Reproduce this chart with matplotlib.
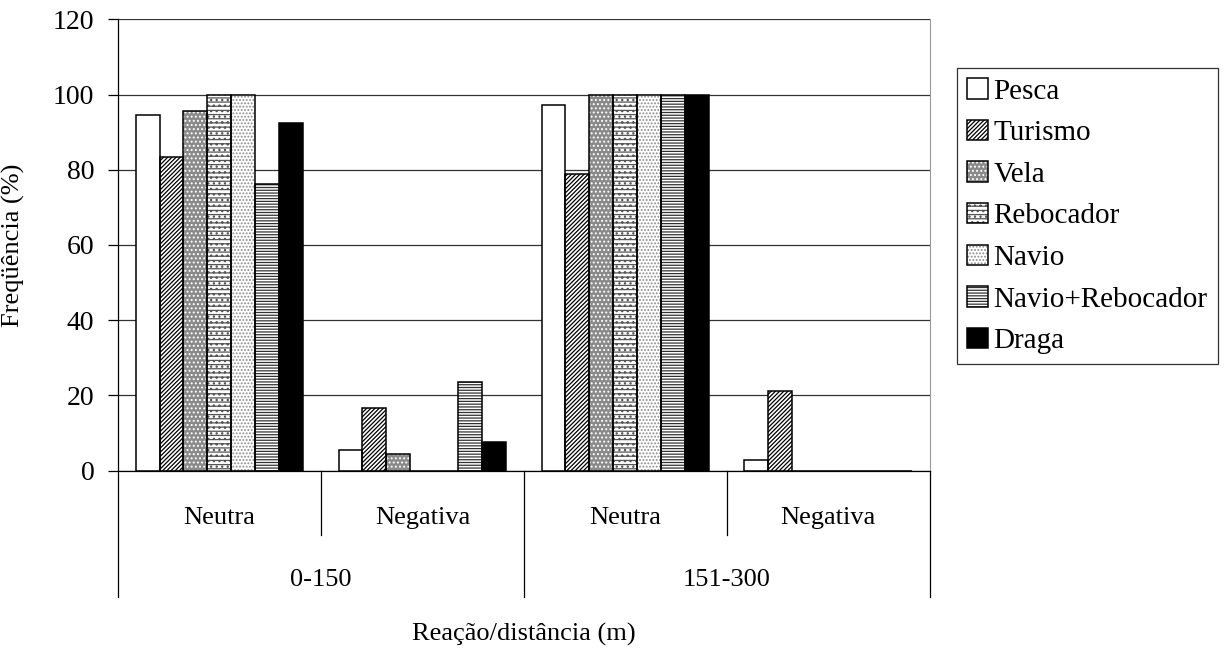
import numpy as np
import matplotlib.pyplot as plt
from matplotlib.patches import Patch
from matplotlib.transforms import blended_transform_factory

plt.rcParams['font.family'] = ['Liberation Serif', 'DejaVu Serif']
plt.rcParams['hatch.linewidth'] = 0.9

# dados
reacoes = ['Neutra', 'Negativa', 'Neutra', 'Negativa']
distancias = ['0-150', '151-300']
embarcacoes = ['Pesca', 'Turismo', 'Vela', 'Rebocador', 'Navio', 'Navio+Rebocador', 'Draga']

pesca = [94.5, 5.5, 97.1, 2.9]
turismo = [83.4, 16.6, 78.9, 21.1]
vela = [95.7, 4.3, 100, 0]
rebocador = [100, 0, 100, 0]
navio = [100, 0, 100, 0]
navio_rebocador = [76.3, 23.7, 100, 0]
draga = [92.3, 7.7, 100, 0]

series = [pesca, turismo, vela, rebocador, navio, navio_rebocador, draga]

# estilos: (cor de fundo, hachura, cor da hachura)
estilos = [
    ('white', None, 'black'),
    ('white', '////////', 'black'),
    ('#8a8a8a', '....', 'white'),
    ('white', '----...', '#555555'),
    ('white', '.....', '#8a8a8a'),
    ('white', '------', '#333333'),
    ('black', None, 'black'),
]

fig = plt.figure(figsize=(12.25, 6.51), dpi=100)
ax = fig.add_axes([0.0963, 0.277, 0.6627, 0.6934])

n_grupos = len(reacoes)
x = np.arange(n_grupos)
largura = 0.1177
offset = 0.087

handles = []
for j, (vals, (fc, hatch, hc)) in enumerate(zip(series, estilos)):
    pos = x + offset + (j + 0.5) * largura
    ax.bar(pos, vals, largura, color=fc, hatch=hatch, edgecolor=hc, linewidth=0, zorder=2)
    ax.bar(pos, vals, largura, fill=False, edgecolor='black', linewidth=1.1, zorder=3)
    h1 = Patch(facecolor=fc, hatch=hatch, edgecolor=hc, linewidth=0)
    h2 = Patch(fill=False, edgecolor='black', linewidth=1.1)
    handles.append((h1, h2))

ax.set_xlim(0, n_grupos)
ax.set_ylim(0, 120)
ax.set_yticks(np.arange(0, 121, 20))
ax.yaxis.grid(True, color='#333333', linewidth=0.9)
ax.set_axisbelow(True)
ax.tick_params(axis='y', labelsize=20, length=7, width=0.9, pad=10)
ax.set_xticks([])
ax.spines['top'].set_visible(False)
ax.spines['right'].set_color('#999999')
ax.spines['left'].set_linewidth(0.9)
ax.spines['bottom'].set_linewidth(0.9)

ax.set_ylabel('Freqüência (%)', fontsize=19)
ax.yaxis.set_label_coords(-0.1145, 0.5)

# eixo de categorias em dois níveis
tr = blended_transform_factory(ax.transData, ax.transAxes)
for i, r in enumerate(reacoes):
    ax.text(i + 0.5, -0.105, r, transform=tr, ha='center', va='center', fontsize=19)
for k in range(n_grupos + 1):
    baixo = -0.28 if k % 2 == 0 else -0.142
    ax.plot([k, k], [0, baixo], transform=tr, color='black', linewidth=0.9, clip_on=False)
for i, d in enumerate(distancias):
    ax.text(2 * i + 1, -0.243, d, transform=tr, ha='center', va='center', fontsize=19)
ax.text(0.5, -0.362, 'Reação/distância (m)', transform=ax.transAxes,
        ha='center', va='center', fontsize=19)

leg = fig.legend(handles, embarcacoes, loc='upper left',
                 bbox_to_anchor=(957 / 1225, 1 - 68 / 651), fontsize=21,
                 frameon=True, fancybox=False, edgecolor='black',
                 handlelength=0.7, handleheight=0.7, handletextpad=0.2,
                 labelspacing=0.52, borderpad=0.35, borderaxespad=0)
leg.get_frame().set_linewidth(0.9)

fig.savefig('out.png', dpi=100, facecolor='white')
